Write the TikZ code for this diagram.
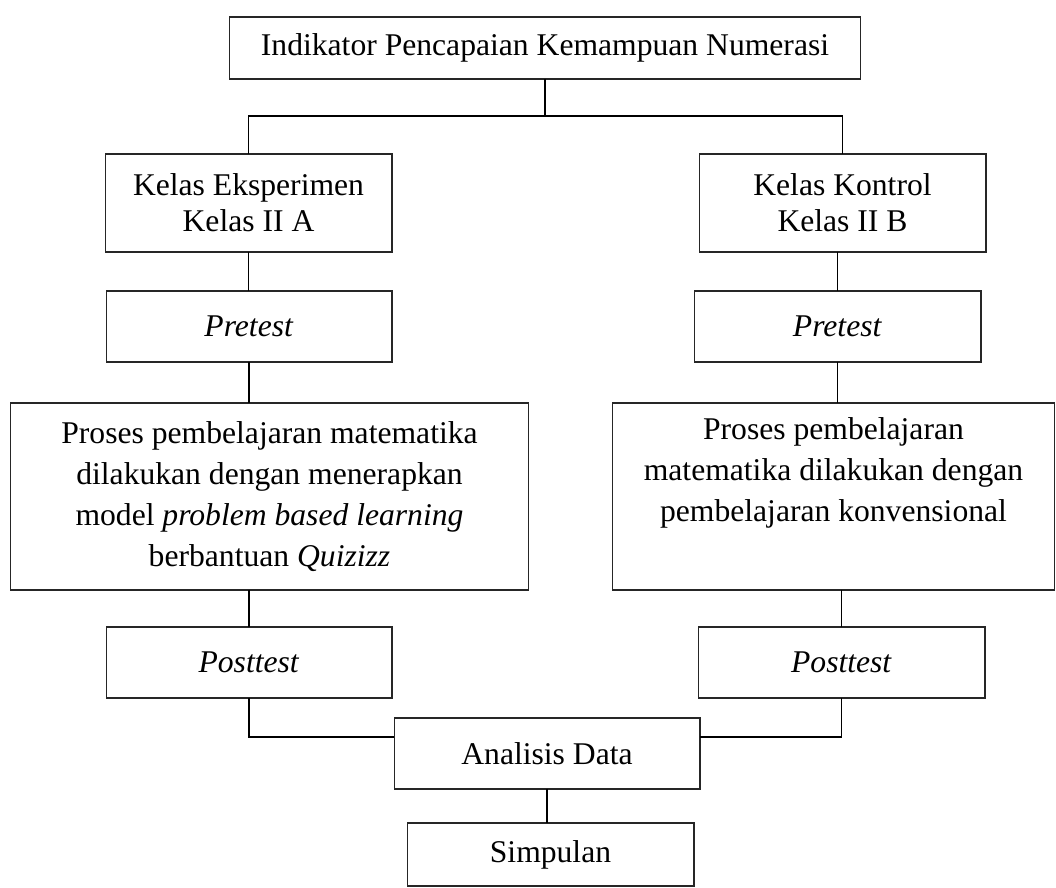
\documentclass[tikz,border=0pt]{standalone}
\usepackage{fontspec}
\setmainfont{Liberation Serif}

\begin{document}
\begin{tikzpicture}[x=0.02cm, y=-0.02cm,
    box/.style={draw=black!85, line width=0.6pt, inner sep=0pt, outer sep=0pt,
        align=center, font=\fontsize{18}{20.5}\selectfont},
    prosesbox/.style={box, minimum height=3.74cm, font=\fontsize{18}{23.3}\selectfont},
    link/.style={draw=black, line width=1.1pt}]

    \useasboundingbox (0,0) rectangle (1056,888);

    % Top
    \node[box, minimum width=12.64cm, minimum height=1.24cm] (indikator) at (545,48) {Indikator Pencapaian Kemampuan Numerasi};

    % Experimental class
    \node[box, minimum width=5.74cm, minimum height=1.96cm] (eksp) at (248.5,203) {Kelas Eksperimen\\Kelas II A};
    \node[box, minimum width=5.72cm, minimum height=1.42cm] (preA) at (249,326.5) {\textit{Pretest}};
    \node[prosesbox, minimum width=10.38cm] (prosesA) at (269.5,496.5) {Proses pembelajaran matematika\\dilakukan dengan menerapkan\\model \textit{problem based learning}\\berbantuan \textit{Quizizz}};
    \node[box, minimum width=5.72cm, minimum height=1.42cm] (postA) at (249,662.5) {\textit{Posttest}};

    % Control class
    \node[box, minimum width=5.74cm, minimum height=1.96cm] (kontrol) at (842.5,203) {Kelas Kontrol\\Kelas II B};
    \node[box, minimum width=5.74cm, minimum height=1.42cm] (preB) at (837.5,326.5) {\textit{Pretest}};
    \node[prosesbox, minimum width=8.86cm] (prosesB) at (833.5,496.5) {Proses pembelajaran\\matematika dilakukan dengan\\pembelajaran konvensional\\\strut};
    \node[box, minimum width=5.74cm, minimum height=1.42cm] (postB) at (841.5,662.5) {\textit{Posttest}};

    % Bottom
    \node[box, minimum width=6.12cm, minimum height=1.42cm] (analisis) at (547,753.5) {Analisis Data};
    \node[box, minimum width=5.74cm, minimum height=1.26cm] (simpulan) at (550.5,854.5) {Simpulan};

    % Connectors
    \coordinate (busTop) at (545,116);
    \coordinate (busBot) at (547,737);
    \draw[link] (indikator.south) -- (busTop);
    \draw[link] (eksp.north) |- (busTop) -| (kontrol.north);

    \draw[link] (eksp.south) -- (eksp.south |- preA.north);
    \draw[link] (preA.south) -- (preA.south |- prosesA.north);
    \draw[link] (postA.north |- prosesA.south) -- (postA.north);

    \draw[link] (preB.north |- kontrol.south) -- (preB.north);
    \draw[link] (preB.south) -- (preB.south |- prosesB.north);
    \draw[link] (postB.north |- prosesB.south) -- (postB.north);

    \draw[link] (postA.south) |- (analisis.west |- busBot);
    \draw[link] (postB.south) |- (analisis.east |- busBot);
    \draw[link] (analisis.south) -- (analisis.south |- simpulan.north);

\end{tikzpicture}
\end{document}
